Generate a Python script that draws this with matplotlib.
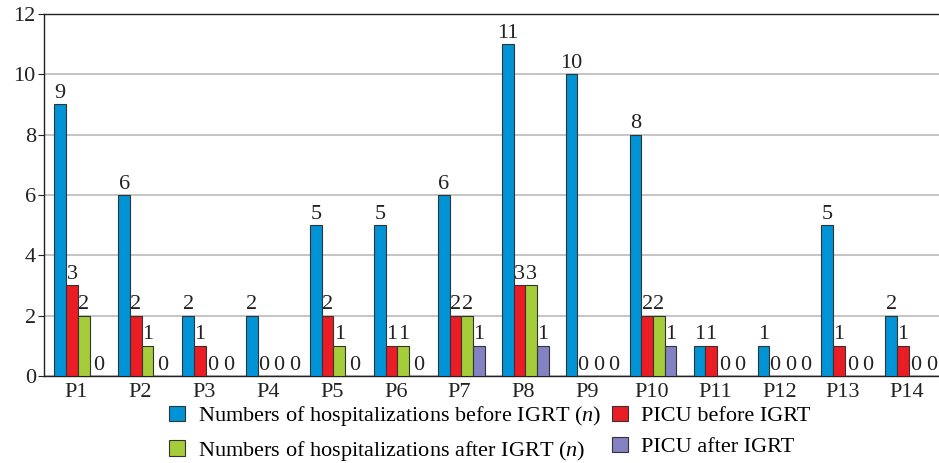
import numpy as np
import matplotlib
matplotlib.use("Agg")
import matplotlib.pyplot as plt

# data
patients = ["P1", "P2", "P3", "P4", "P5", "P6", "P7",
            "P8", "P9", "P10", "P11", "P12", "P13", "P14"]
hosp_before = [9, 6, 2, 2, 5, 5, 6, 11, 10, 8, 1, 1, 5, 2]
picu_before = [3, 2, 1, 0, 2, 1, 2, 3, 0, 2, 1, 0, 1, 1]
hosp_after = [2, 1, 0, 0, 1, 1, 2, 3, 0, 2, 0, 0, 0, 0]
picu_after = [0, 0, 0, 0, 0, 0, 1, 1, 0, 1, 0, 0, 0, 0]

series_names = ["Numbers of hospitalizations before IGRT ($\\it{n}$)",
                "PICU before IGRT",
                "Numbers of hospitalizations after IGRT ($\\it{n}$)",
                "PICU after IGRT"]
colors = ["#0094d6", "#ec1c24", "#a5cd39", "#8482c2"]

plt.rcParams["font.family"] = ["Liberation Serif", "DejaVu Serif"]
plt.rcParams["mathtext.fontset"] = "custom"
plt.rcParams["mathtext.it"] = "Liberation Serif:italic"
plt.rcParams["mathtext.rm"] = "Liberation Serif"

fs = 16

fig = plt.figure(figsize=(9.39, 4.63), dpi=100)
ax = fig.add_axes([0.047, 0.188, 0.953, 0.782])

x = np.arange(len(patients))
w = 0.183
shift = 0.027
all_vals = [hosp_before, picu_before, hosp_after, picu_after]
bars = []
for k, vals in enumerate(all_vals):
    pos = x + shift + (k - 1.5) * w
    b = ax.bar(pos, vals, w, color=colors[k], edgecolor="#333333",
               linewidth=0.8, label=series_names[k], zorder=3)
    bars.append(b)
    for px, v in zip(pos, vals):
        if v == 0:
            continue
        ax.annotate(str(v), (px, v), xytext=(0, 1), textcoords="offset points",
                    ha="center", va="bottom", fontsize=fs, color="#222222")

# zero labels sit on the baseline, spread a bit apart like the original
gap_pt = 11.2
for i in range(len(patients)):
    ks = [k for k in range(4) if all_vals[k][i] == 0]
    if not ks:
        continue
    centers = [x[i] + shift + (k - 1.5) * w for k in ks]
    mid = np.mean(centers)
    n = len(ks)
    for j in range(n):
        off = 2.5 + (j - (n - 1) / 2) * gap_pt
        ax.annotate("0", (mid, 0), xytext=(off, 1), textcoords="offset points",
                    ha="center", va="bottom", fontsize=fs, color="#222222")

ax.set_xlim(-0.5, len(patients) - 0.5)
ax.set_ylim(0, 12)
ax.set_yticks(range(0, 13, 2))
ax.set_xticks(x)
ax.set_xticklabels(patients)
ax.tick_params(axis="x", length=0, labelsize=fs, pad=5, colors="#222222")
ax.tick_params(axis="y", length=4, labelsize=fs, pad=2, colors="#222222")
ax.yaxis.grid(True, color="#bbbbbb", linewidth=1.2, zorder=0)
ax.set_axisbelow(True)
ax.spines["right"].set_visible(False)
for s in ["left", "top", "bottom"]:
    ax.spines[s].set_color("#222222")
    ax.spines[s].set_linewidth(1.0)

# legend fills column-wise: blue, green in column 1; red, purple in column 2
order = [0, 2, 1, 3]
ax.legend([bars[i] for i in order], [series_names[i] for i in order],
          loc="upper left", bbox_to_anchor=(0.18, 0.127),
          bbox_transform=fig.transFigure, ncol=2, frameon=False,
          fontsize=fs, handlelength=0.7, handleheight=0.7,
          handletextpad=0.6, labelspacing=0.48, columnspacing=0.5,
          borderpad=0, borderaxespad=0)

fig.savefig("out.png", dpi=100)
